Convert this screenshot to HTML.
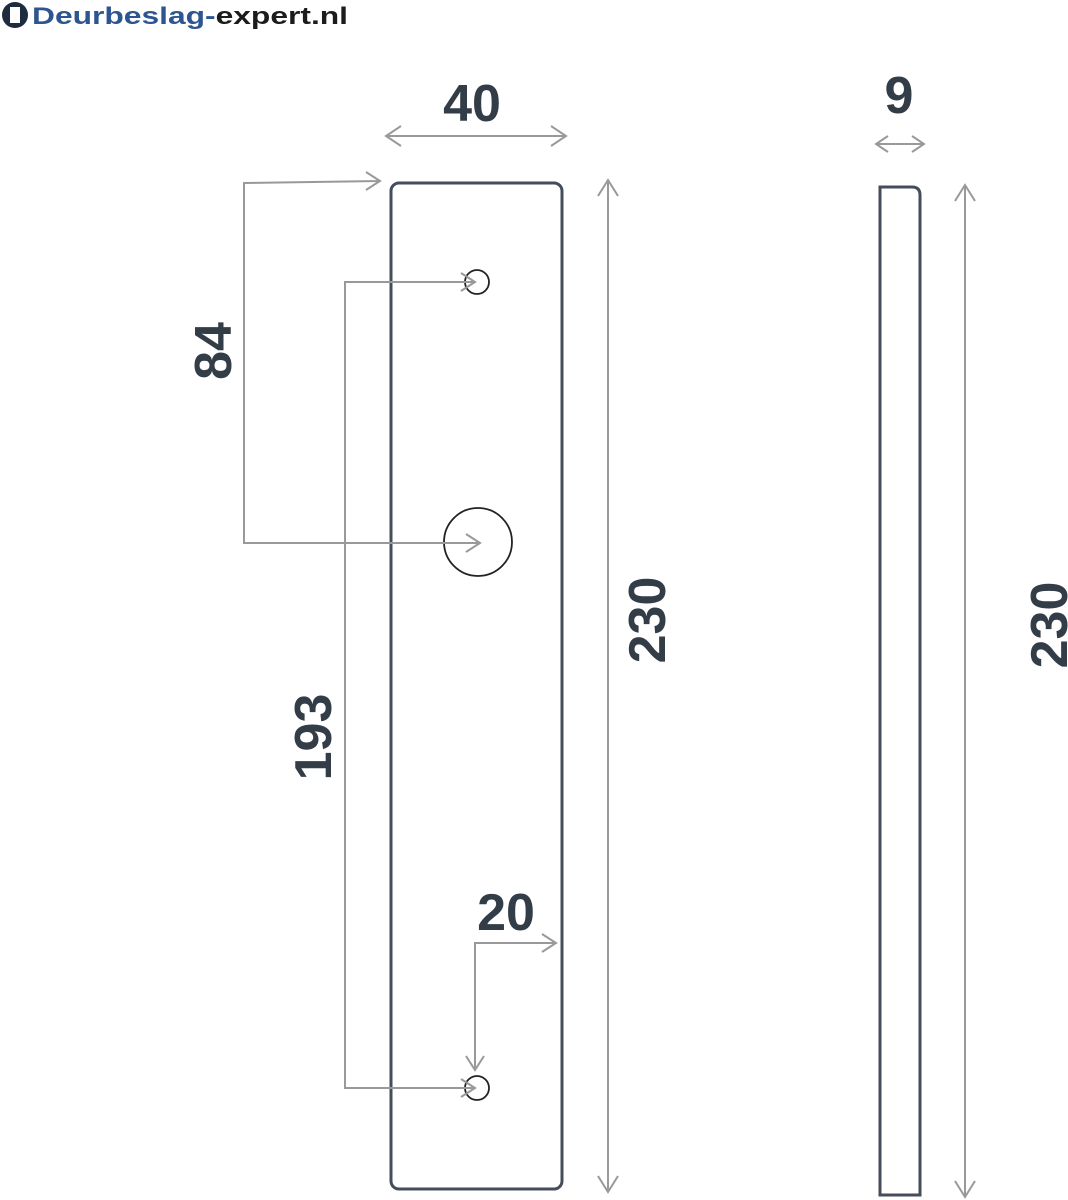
<!DOCTYPE html><html><head><style>body{margin:0;background:#fff}</style></head><body>
<svg width="1068" height="1200" xmlns="http://www.w3.org/2000/svg" style="display:block">
<g font-family="Liberation Sans, sans-serif" font-weight="bold">
<circle cx="15" cy="15" r="13" fill="#1d2c3f"/><rect x="10" y="7" width="10" height="16" fill="#fff"/>
<text x="32" y="24" font-size="24" textLength="316" lengthAdjust="spacingAndGlyphs"><tspan fill="#2d5591">Deurbeslag-</tspan><tspan fill="#1c1c1c">expert.nl</tspan></text>
</g>
<g fill="none" stroke="#454d5a" stroke-width="3">
<rect x="391" y="183" width="171" height="1006" rx="8"/>
<path d="M880 187 H912 Q920 187 920 195 V1195 H880 Z"/>
</g>
<g fill="none" stroke="#222" stroke-width="1.8">
<circle cx="477" cy="282" r="12"/><circle cx="478" cy="542" r="34"/><circle cx="477" cy="1088" r="12"/>
</g>
<g fill="none" stroke="#999" stroke-width="2">
<path d="M386 136 H566 M401 126 L386 136 L401 146 M551 126 L566 136 L551 146"/>
<path d="M876 144 H924 M888 136 L876 144 L888 152 M912 136 L924 144 L912 152"/>
<path d="M380 181 L244 183 V543 H480 M366 172 L380 181 L366 190 M466 534 L480 543 L466 552"/>
<path d="M475 282 H345 V1088 H475 M461 273 L475 282 L461 291 M461 1079 L475 1088 L461 1097"/>
<path d="M556 943 H475 V1070 M542 934 L556 943 L542 952 M466 1056 L475 1070 L484 1056"/>
<path d="M608 180 V1192 M598 196 L608 180 L618 196 M598 1176 L608 1192 L618 1176"/>
<path d="M965 185 V1197 M955 201 L965 185 L975 201 M955 1181 L965 1197 L975 1181"/>
</g>
<g font-family="Liberation Sans, sans-serif" font-weight="bold" fill="#333d47" font-size="52" text-anchor="middle">
<text x="472" y="121">40</text>
<text x="899" y="113">9</text>
<text x="506" y="930">20</text>
<text transform="translate(231,351) rotate(-90)">84</text>
<text transform="translate(331,737) rotate(-90)">193</text>
<text transform="translate(665,620) rotate(-90)">230</text>
<text transform="translate(1067,625) rotate(-90)">230</text>
</g>
</svg></body></html>
